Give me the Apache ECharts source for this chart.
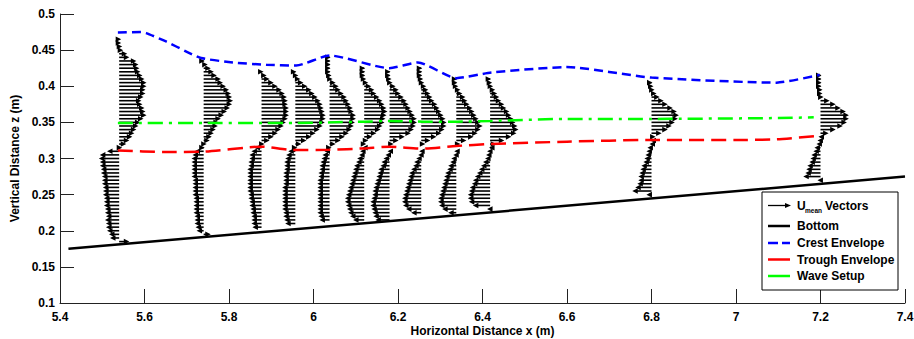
<!DOCTYPE html>
<html>
<head>
<meta charset="utf-8">
<script src="https://cdn.jsdelivr.net/npm/echarts@6/dist/echarts.min.js"></script>
<style>
html,body{margin:0;padding:0;background:#fff;}
#chart{width:914px;height:339px;}
</style>
</head>
<body>
<div id="chart"></div>
<script>
// ---------------- data ----------------
const xTicks = [5.4, 5.6, 5.8, 6, 6.2, 6.4, 6.6, 6.8, 7, 7.2, 7.4];
const yTicks = [0.1, 0.15, 0.2, 0.25, 0.3, 0.35, 0.4, 0.45, 0.5];

// bottom (bed) line
const bottomX = [5.42, 7.4];
const bottomZ = [0.175, 0.275];

// crest envelope
const crestX = [5.537, 5.592, 5.604, 5.651, 5.699, 5.734, 5.809, 5.888, 5.959, 6.038, 6.18, 6.247, 6.338, 6.421, 6.599, 6.80, 7.096, 7.198];
const crestZ = [0.4745, 0.475, 0.4736, 0.462, 0.448, 0.439, 0.4329, 0.4297, 0.4287, 0.4426, 0.425, 0.433, 0.4112, 0.419, 0.4265, 0.412, 0.405, 0.4158];

// trough envelope
const troughX = [5.537, 5.65, 5.738, 5.876, 5.951, 6.038, 6.12, 6.18, 6.255, 6.338, 6.42, 6.6, 6.8, 7.0, 7.096, 7.198];
const troughZ = [0.311, 0.309, 0.3094, 0.3164, 0.3118, 0.312, 0.314, 0.3164, 0.3136, 0.3173, 0.3201, 0.3233, 0.3257, 0.3257, 0.3265, 0.3316];

// wave setup
const setupX = [5.537, 5.74, 5.88, 5.96, 6.04, 6.12, 6.18, 6.26, 6.34, 6.42, 6.6, 6.8, 7.1, 7.184];
const setupZ = [0.349, 0.349, 0.349, 0.349, 0.350, 0.351, 0.352, 0.351, 0.351, 0.352, 0.3548, 0.3548, 0.356, 0.357];

// velocity profiles: x of each profile, lowest z of upper / lower parts
const profileX = [5.54, 5.74, 5.877, 5.957, 6.038, 6.12, 6.18, 6.255, 6.338, 6.418, 6.80, 7.20];
const upperStartZ = [0.315, 0.315, 0.320, 0.315, 0.315, 0.320, 0.320, 0.320, 0.320, 0.320, 0.330, 0.335];
const lowerStartZ = [0.185, 0.195, 0.205, 0.210, 0.215, 0.215, 0.215, 0.225, 0.225, 0.230, 0.250, 0.270];
const DZ = 0.005; // vertical spacing of measurement points (m)

// U_mean (m/s) above the trough, from lowest point upward
const uUpper = [
  [0.03,0.07,0.10,0.13,0.15,0.17,0.19,0.21,0.24,0.27,0.26,0.25,0.23,0.22,0.24,0.26,0.26,0.27,0.27,0.25,0.23,0.21,0.20,0.19,0.17,0.10,0.08,0.04,0.03,0.02,0.02],
  [0.01,0.03,0.06,0.08,0.10,0.12,0.14,0.15,0.17,0.20,0.23,0.26,0.28,0.29,0.28,0.27,0.25,0.22,0.19,0.17,0.13,0.10,0.07,0.04,0.01],
  [0.03,0.08,0.12,0.16,0.19,0.22,0.24,0.26,0.27,0.27,0.27,0.26,0.26,0.25,0.23,0.20,0.16,0.12,0.08,0.05,0.02],
  [0.02,0.06,0.11,0.16,0.20,0.24,0.27,0.29,0.30,0.30,0.29,0.28,0.27,0.25,0.22,0.19,0.16,0.12,0.08,0.05,0.03,0.01],
  [0.02,0.06,0.11,0.15,0.19,0.22,0.24,0.25,0.26,0.26,0.24,0.23,0.21,0.19,0.17,0.14,0.11,0.09,0.06,0.03,0.02,0.01,0.01,0.01,0.01,0.01],
  [0.02,0.04,0.08,0.12,0.16,0.18,0.20,0.21,0.22,0.23,0.22,0.20,0.18,0.15,0.12,0.10,0.07,0.04,0.02,0.01,0.01,0.01],
  [0.04,0.09,0.15,0.21,0.24,0.26,0.27,0.27,0.25,0.23,0.21,0.19,0.17,0.14,0.11,0.09,0.06,0.03,0.02,0.01,0.01],
  [0.04,0.09,0.15,0.20,0.23,0.25,0.25,0.24,0.22,0.20,0.18,0.16,0.13,0.11,0.09,0.07,0.05,0.03,0.02,0.01,0.01,0.01],
  [0.04,0.10,0.17,0.21,0.24,0.26,0.24,0.22,0.20,0.18,0.16,0.13,0.11,0.09,0.06,0.04,0.02,0.01,0.01],
  [0.06,0.14,0.21,0.26,0.28,0.27,0.25,0.23,0.21,0.19,0.16,0.14,0.11,0.09,0.07,0.05,0.03,0.02,0.01],
  [0.04,0.10,0.16,0.20,0.23,0.26,0.27,0.25,0.21,0.16,0.12,0.08,0.05,0.03,0.02,0.01],
  [0.08,0.15,0.22,0.26,0.28,0.28,0.25,0.20,0.15,0.09,0.03,0.02,0.02,0.01,0.01,0.01,0.01]
];

// U_mean (m/s) below the trough, from lowest point upward
const uLower = [
  [0.10,-0.09,-0.10,-0.12,-0.13,-0.13,-0.14,-0.13,-0.14,-0.14,-0.15,-0.15,-0.15,-0.16,-0.16,-0.16,-0.17,-0.17,-0.17,-0.18,-0.18,-0.19,-0.19,-0.20,-0.19,-0.12],
  [0.07,-0.07,-0.08,-0.09,-0.09,-0.09,-0.10,-0.10,-0.10,-0.10,-0.10,-0.11,-0.11,-0.11,-0.11,-0.11,-0.12,-0.12,-0.12,-0.12,-0.12,-0.12,-0.11,-0.09],
  [-0.09,-0.10,-0.10,-0.10,-0.11,-0.11,-0.12,-0.12,-0.13,-0.13,-0.14,-0.14,-0.14,-0.14,-0.14,-0.14,-0.14,-0.13,-0.13,-0.12,-0.12,-0.10,-0.07],
  [-0.10,-0.11,-0.12,-0.12,-0.13,-0.13,-0.13,-0.13,-0.13,-0.13,-0.13,-0.12,-0.12,-0.12,-0.12,-0.11,-0.11,-0.11,-0.10,-0.09,-0.07],
  [-0.10,-0.11,-0.12,-0.12,-0.12,-0.12,-0.12,-0.12,-0.12,-0.12,-0.12,-0.12,-0.11,-0.11,-0.10,-0.10,-0.09,-0.08,-0.07,-0.05],
  [-0.11,-0.14,-0.16,-0.17,-0.18,-0.19,-0.19,-0.18,-0.17,-0.16,-0.15,-0.14,-0.13,-0.12,-0.11,-0.10,-0.08,-0.07,-0.05,-0.04,-0.02],
  [-0.14,-0.16,-0.17,-0.18,-0.19,-0.19,-0.18,-0.17,-0.17,-0.16,-0.15,-0.14,-0.13,-0.12,-0.11,-0.09,-0.08,-0.06,-0.04,-0.02],
  [-0.10,-0.15,-0.18,-0.19,-0.19,-0.18,-0.17,-0.16,-0.15,-0.14,-0.13,-0.12,-0.10,-0.08,-0.07,-0.05,-0.03,-0.02],
  [-0.08,-0.14,-0.17,-0.18,-0.18,-0.17,-0.16,-0.15,-0.14,-0.13,-0.12,-0.11,-0.09,-0.08,-0.06,-0.05,-0.03,-0.02],
  [-0.03,-0.17,-0.21,-0.22,-0.22,-0.21,-0.20,-0.18,-0.17,-0.15,-0.13,-0.11,-0.09,-0.07,-0.05,-0.04,-0.03,-0.01],
  [-0.05,-0.19,-0.16,-0.14,-0.13,-0.13,-0.12,-0.11,-0.10,-0.08,-0.07,-0.06,-0.05,-0.04,-0.02,-0.01],
  [-0.03,-0.17,-0.15,-0.14,-0.13,-0.11,-0.10,-0.09,-0.07,-0.06,-0.04,-0.03,-0.02]
];

// ---------------- build ----------------
const VEC_SCALE = 0.24; // metres of x per 1 m/s of U_mean
const zip = (a, b) => a.map((v, i) => [v, b[i]]);

const vectors = [];
profileX.forEach((x0, p) => {
  uUpper[p].forEach((u, i) => vectors.push([x0, +(upperStartZ[p] + i * DZ).toFixed(4), u]));
  uLower[p].forEach((u, i) => vectors.push([x0, +(lowerStartZ[p] + i * DZ).toFixed(4), u]));
});

const FONT = '"Liberation Sans", Arial, sans-serif';

function renderArrow(params, api) {
  const x0 = api.value(0), z = api.value(1), u = api.value(2);
  const p0 = api.coord([x0, z]);
  const p1 = api.coord([x0 + u * VEC_SCALE, z]);
  const dir = u >= 0 ? 1 : -1;
  const hl = 5.5, hw = 2.8;
  return {
    type: 'group',
    children: [
      { type: 'line', shape: { x1: p0[0], y1: p0[1], x2: p1[0] - dir * hl * 0.5, y2: p1[1] },
        style: { stroke: '#000', lineWidth: 1.6 } },
      { type: 'polygon', shape: { points: [[p1[0], p1[1]], [p1[0] - dir * hl, p1[1] - hw], [p1[0] - dir * hl, p1[1] + hw]] },
        style: { fill: '#000' } }
    ]
  };
}

const chart = echarts.init(document.getElementById('chart'), null, { renderer: 'svg' });

const LX = 762, LY = 192;
const legendGraphics = [
  { type: 'rect', shape: { x: LX, y: LY, width: 136, height: 98 }, style: { fill: '#fff', stroke: '#000', lineWidth: 1 }, z: 100 },
  // arrow icon
  { type: 'line', shape: { x1: 768, y1: 205.5, x2: 787, y2: 205.5 }, style: { stroke: '#000', lineWidth: 1.3 }, z: 101 },
  { type: 'polygon', shape: { points: [[791, 205.5], [785, 203], [785, 208]] }, style: { fill: '#000' }, z: 101 },
  { type: 'text', x: 797, y: 206, style: { text: 'U', font: 'bold 12px ' + FONT, fill: '#000', verticalAlign: 'middle' }, z: 101 },
  { type: 'text', x: 805, y: 210, style: { text: 'mean', font: 'bold 6.5px ' + FONT, fill: '#000', verticalAlign: 'middle' }, z: 101 },
  { type: 'text', x: 825, y: 206, style: { text: 'Vectors', font: 'bold 12px ' + FONT, fill: '#000', verticalAlign: 'middle' }, z: 101 },
  // bottom
  { type: 'line', shape: { x1: 768, y1: 226, x2: 790, y2: 226 }, style: { stroke: '#000', lineWidth: 2.5 }, z: 101 },
  { type: 'text', x: 797, y: 226, style: { text: 'Bottom', font: 'bold 12px ' + FONT, fill: '#000', verticalAlign: 'middle' }, z: 101 },
  // crest
  { type: 'line', shape: { x1: 768, y1: 243, x2: 778, y2: 243 }, style: { stroke: '#0000ff', lineWidth: 2.5 }, z: 101 },
  { type: 'line', shape: { x1: 782, y1: 243, x2: 790, y2: 243 }, style: { stroke: '#0000ff', lineWidth: 2.5 }, z: 101 },
  { type: 'text', x: 797, y: 243, style: { text: 'Crest Envelope', font: 'bold 12px ' + FONT, fill: '#000', verticalAlign: 'middle' }, z: 101 },
  // trough
  { type: 'line', shape: { x1: 768, y1: 259.5, x2: 790, y2: 259.5 }, style: { stroke: '#ff0000', lineWidth: 2.5 }, z: 101 },
  { type: 'text', x: 797, y: 259.5, style: { text: 'Trough Envelope', font: 'bold 12px ' + FONT, fill: '#000', verticalAlign: 'middle' }, z: 101 },
  // setup
  { type: 'line', shape: { x1: 768, y1: 276, x2: 790, y2: 276 }, style: { stroke: '#00ff00', lineWidth: 2.5 }, z: 101 },
  { type: 'text', x: 797, y: 276, style: { text: 'Wave Setup', font: 'bold 12px ' + FONT, fill: '#000', verticalAlign: 'middle' }, z: 101 }
];

const axisCommon = {
  axisLine: { show: true, lineStyle: { color: '#222', width: 1 } },
  axisTick: { show: true, inside: true, length: 14, lineStyle: { color: '#222', width: 1 } },
  splitLine: { show: false },
  axisLabel: { color: '#000', fontWeight: 'bold', fontSize: 12, fontFamily: FONT },
  nameTextStyle: { color: '#000', fontWeight: 'bold', fontSize: 12, fontFamily: FONT, lineHeight: 12 }
};

chart.setOption({
  animation: false,
  backgroundColor: '#fff',
  grid: { left: 60, right: 9, top: 14, bottom: 36, containLabel: false, outerBoundsMode: 'none' },
  xAxis: Object.assign({}, axisCommon, {
    type: 'value', min: xTicks[0], max: xTicks[xTicks.length - 1], interval: 0.2,
    name: 'Horizontal Distance x (m)', nameLocation: 'middle', nameGap: 22, nameMoveOverlap: false,
    axisLabel: Object.assign({}, axisCommon.axisLabel, { margin: 8, formatter: v => String(+v.toFixed(1)) })
  }),
  yAxis: Object.assign({}, axisCommon, {
    type: 'value', min: yTicks[0], max: yTicks[yTicks.length - 1], interval: 0.05,
    name: 'Vertical Distance z (m)', nameLocation: 'middle', nameGap: 39, nameMoveOverlap: false,
    axisLabel: Object.assign({}, axisCommon.axisLabel, { margin: 5, formatter: v => String(+v.toFixed(2)) })
  }),
  series: [
    {
      name: 'Umean Vectors', type: 'custom', renderItem: renderArrow, data: vectors,
      encode: { x: 0, y: 1 }, z: 2, clip: false, silent: true
    },
    {
      name: 'Bottom', type: 'line', data: zip(bottomX, bottomZ), showSymbol: false, z: 3,
      lineStyle: { color: '#000', width: 2.5 }
    },
    {
      name: 'Crest Envelope', type: 'line', data: zip(crestX, crestZ), showSymbol: false, smooth: 0.2, z: 4,
      lineStyle: { color: '#0000ff', width: 2.5, type: [9, 5] }
    },
    {
      name: 'Trough Envelope', type: 'line', data: zip(troughX, troughZ), showSymbol: false, smooth: 0.2, z: 4,
      lineStyle: { color: '#ff0000', width: 2.5, type: [15, 7] }
    },
    {
      name: 'Wave Setup', type: 'line', data: zip(setupX, setupZ), showSymbol: false, smooth: 0.2, z: 4,
      lineStyle: { color: '#00ff00', width: 2.5, type: [15, 6, 3, 6] }
    }
  ],
  graphic: legendGraphics
});
</script>
</body>
</html>
